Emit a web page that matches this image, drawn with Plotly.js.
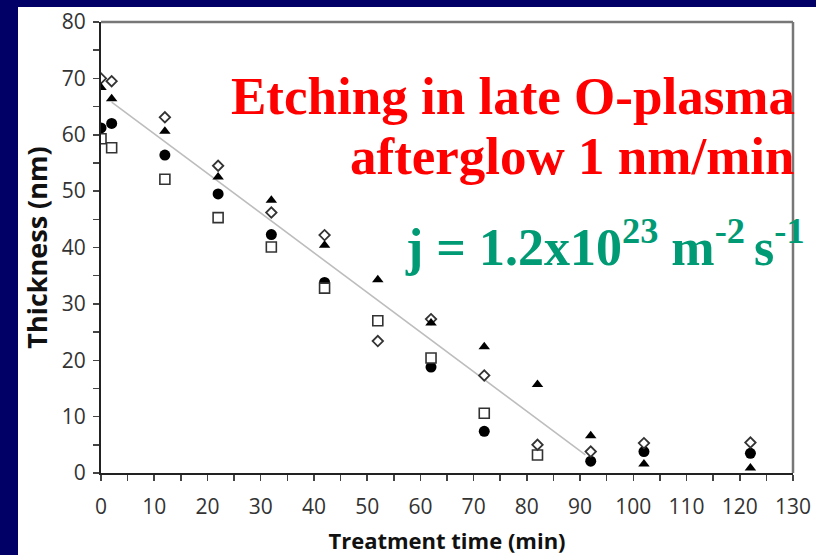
<!DOCTYPE html>
<html>
<head>
<meta charset="utf-8">
<script src="https://cdn.plot.ly/plotly-3.0.1.min.js"></script>
<style>
  html, body { margin: 0; padding: 0; background: #010066; width: 816px; height: 555px; overflow: hidden; }
  #chart { position: absolute; left: 18px; top: 7px; width: 798px; height: 548px; }
</style>
</head>
<body>
<div id="chart"></div>
<script>
// Treatment time (min)
const times = [0, 2, 12, 22, 32, 42, 52, 62, 72, 82, 92, 102, 122];
// Thickness (nm), four sample series
const diamondSeries = [70.0, 69.5, 63.1, 54.5, 46.2, 42.2, 23.4, 27.3, 17.3, 5.0, 3.8, 5.3, 5.4];
const triangleSeries = [68.4, 66.4, 60.6, 52.5, 48.4, 40.4, 34.3, 26.6, 22.4, 15.7, 6.6, 1.6, 0.9];
const circleSeries = [61.2, 62.0, 56.4, 49.5, 42.3, 33.8, null, 18.8, 7.4, null, 2.1, 3.8, 3.5];
const squareSeries = [59.3, 57.7, 52.1, 45.3, 40.1, 32.8, 27.0, 20.4, 10.6, 3.2, null, null, null];
// Linear trend line end points
const trendX = [2, 91];
const trendY = [65.8, 3.2];
// Tick values
const xTicks = [0, 10, 20, 30, 40, 50, 60, 70, 80, 90, 100, 110, 120, 130];
const yTicks = [0, 10, 20, 30, 40, 50, 60, 70, 80];

const traces = [
  { x: trendX, y: trendY, mode: 'lines', line: { color: '#bdbdbd', width: 1.6 }, hoverinfo: 'skip' },
  { x: times, y: circleSeries, mode: 'markers', marker: { symbol: 'circle', size: 11, color: '#000' } },
  { x: times, y: squareSeries, mode: 'markers', marker: { symbol: 'square', size: 10, color: '#fff', line: { color: '#333', width: 1.6 } } },
  { x: times, y: diamondSeries, mode: 'markers', marker: { symbol: 'diamond', size: 8, color: '#fff', line: { color: '#333', width: 1.8 } } },
  { x: times, y: triangleSeries, mode: 'markers', marker: { symbol: 'triangle-up', size: 10, color: '#000' } }
];

const W = 798, H = 548;
const L = 82.5, R = 23, T = 14.7, B = 81.7;
const pw = W - L - R, ph = H - T - B;
// helpers converting page pixel positions of text to paper coords
const px = v => (v - 18 - L) / pw;
const py = v => (H - B - (v - 7)) / ph;

const axisCommon = {
  showgrid: false, zeroline: false,
  showline: true, linecolor: '#222', linewidth: 2,
  ticks: 'outside', ticklen: 6, tickwidth: 1.5, tickcolor: '#444',
  tickfont: { family: 'Open Sans, sans-serif', size: 21, color: '#333' },
  minor: { dtick: 5, ticks: 'outside', ticklen: 6, tickwidth: 1.5, tickcolor: '#444' }
};

const layout = {
  width: W, height: H,
  margin: { l: L, r: R, t: T, b: B },
  paper_bgcolor: '#ffffff', plot_bgcolor: '#ffffff',
  showlegend: false,
  xaxis: Object.assign({}, axisCommon, {
    range: [0, 130], tickvals: xTicks, ticktext: xTicks.map(String),
    ticklabelstandoff: 8,
    title: { text: 'Treatment time (min)', font: { family: 'Open Sans, sans-serif', size: 22, color: '#111', weight: 'bold' }, standoff: 16 }
  }),
  yaxis: Object.assign({}, axisCommon, {
    range: [0, 80], tickvals: yTicks, ticktext: yTicks.map(String),
    ticklabelstandoff: 3,
    title: { text: 'Thickness (nm)', font: { family: 'Open Sans, sans-serif', size: 27, color: '#111', weight: 'bold' }, standoff: 18 }
  }),
  shapes: [
    { type: 'line', xref: 'paper', yref: 'paper', x0: 0, x1: 1, y0: 1, y1: 1, line: { color: '#777', width: 2.5 } },
    { type: 'line', xref: 'paper', yref: 'paper', x0: 1, x1: 1, y0: 0, y1: 1, line: { color: '#777', width: 2.5 } }
  ],
  annotations: [
    { xref: 'paper', yref: 'paper', x: px(797), y: py(96), xanchor: 'right', yanchor: 'middle', showarrow: false,
      text: '<b>Etching in late O-plasma</b>', font: { family: 'Liberation Serif, Times New Roman, serif', size: 53, color: '#ff0000' } },
    { xref: 'paper', yref: 'paper', x: px(797), y: py(156), xanchor: 'right', yanchor: 'middle', showarrow: false,
      text: '<b>afterglow 1 nm/min</b>', font: { family: 'Liberation Serif, Times New Roman, serif', size: 53, color: '#ff0000' } },
    { xref: 'paper', yref: 'paper', x: px(403), y: py(243), xanchor: 'left', yanchor: 'middle', showarrow: false,
      text: '<b>j = 1.2x10<sup>23</sup> m<sup>-2 </sup>s<sup>-1</sup></b>', font: { family: 'Liberation Serif, Times New Roman, serif', size: 52, color: '#009a74' } }
  ]
};

Plotly.newPlot('chart', traces, layout, { displayModeBar: false, staticPlot: true });
</script>
</body>
</html>
